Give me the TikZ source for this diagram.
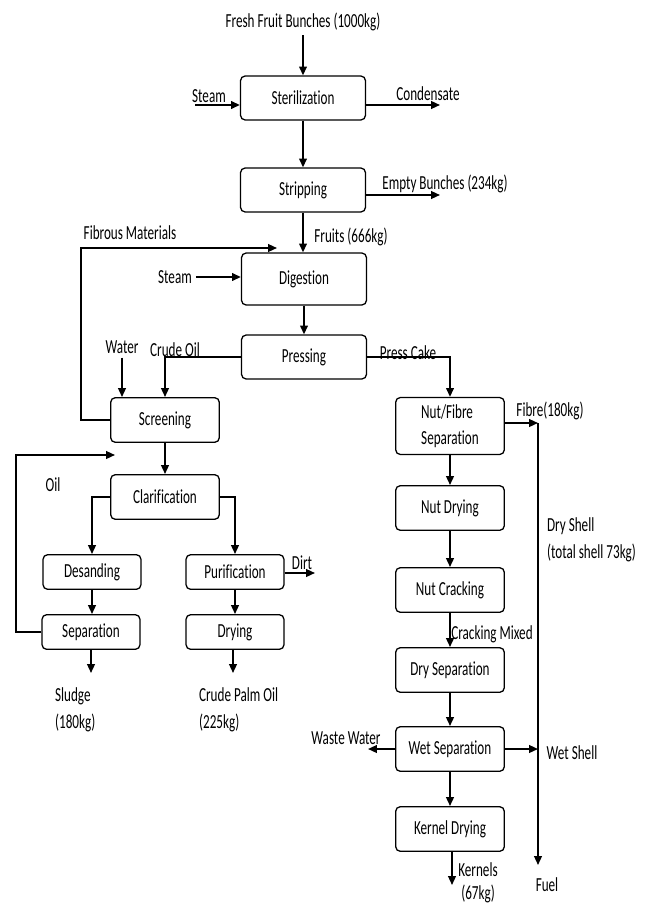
\documentclass[tikz,border=0pt]{standalone}
\usepackage{fontspec}
\setmainfont{Carlito}[FakeStretch=0.66, RawFeature=-liga]
\usetikzlibrary{arrows.meta}

\tikzset{
  unit/.style={draw, rectangle, rounded corners=4pt, line width=1.1pt, minimum width=3.26cm, minimum height=1.34cm},
  bigunit/.style={unit, minimum width=3.75cm, minimum height=1.32cm},
  smallunit/.style={unit, minimum width=2.94cm, minimum height=1.04cm},
  flow/.style={draw, line width=1.5pt, ->}
}

\begin{document}
\begin{tikzpicture}[x=0.03cm, y=-0.03cm,
  every node/.style={font=\fontsize{17}{23}\selectfont},
  >={Triangle[length=7.5pt,width=6.5pt]}]
\useasboundingbox (0,0) rectangle (646,905);
\begin{scope}
% main line
\node[bigunit] (ster) at (303,98) {Sterilization};
\node[bigunit] (strip) at (303,190) {Stripping};
\node[bigunit, minimum height=1.56cm] (dig) at (304,279) {Digestion};
\node[bigunit] (press) at (304,357) {Pressing};
% oil side
\node[unit] (scr) at (165,420) {Screening};
\node[unit] (clar) at (165,497) {Clarification};
\node[smallunit] (des) at (92,572) {Desanding};
\node[smallunit] (sep) at (91,632) {Separation};
\node[smallunit] (pur) at (235,572) {Purification};
\node[smallunit] (dry) at (235,632) {Drying};
% nut side
\node[unit, minimum height=1.71cm, align=left] (nfs) at (450,426) {Nut/Fibre\\[-1pt]Separation};
\node[unit] (ndry) at (450,508) {Nut Drying};
\node[unit] (ncrack) at (450,590) {Nut Cracking};
\node[unit] (dsep) at (450,670) {Dry Separation};
\node[unit] (wsep) at (450,749) {Wet Separation};
\node[unit] (kdry) at (450,829) {Kernel Drying};

% labels
\node (fresh) at (303,22) {Fresh Fruit Bunches (1000kg)};
\node (steam) at (209,96) {Steam};
\node (cond) at (428,94) {Condensate};
\node (empty) at (445,184) {Empty Bunches (234kg)};
\node (fruits) at (351,237) {Fruits (666kg)};
\node (fibrous) at (130,233) {Fibrous Materials};
\node (steamb) at (175,277) {Steam};
\node (water) at (122,347) {Water};
\node (crude) at (175,350) {Crude Oil};
\node (cake) at (408,353) {Press Cake};
\node (oil) at (53,485) {Oil};
\node (dirt) at (302,563) {Dirt};
\node[align=left, anchor=west] (sludge) at (51,710) {Sludge\\(180kg)};
\node[align=left, anchor=west] (cpo) at (195,710) {Crude Palm Oil\\(225kg)};
\node (fibre) at (550,411) {Fibre(180kg)};
\node[align=left, anchor=west] (dshell) at (543,540) {Dry Shell\\(total shell 73kg)};
\node (mixed) at (492,634) {Cracking Mixed};
\node (waste) at (346,738) {Waste Water};
\node (wshell) at (572,753) {Wet Shell};
\node[align=center] (kern) at (478,883) {Kernels\\[-3pt](67kg)};
\node (fuel) at (547,885) {Fuel};

% free ends
\coordinate (stin) at (195,105);
\coordinate (condout) at (440,105);
\coordinate (ebout) at (440,195);
\coordinate (fibin) at (277,248);
\coordinate (oilin) at (115,455);
\coordinate (dirtout) at (315,573);
\coordinate (slout) at (91,673);
\coordinate (cpout) at (233,673);
\coordinate (fibtop) at (538,423);
\coordinate (fuelout) at (538,865);
\coordinate (wwout) at (368,751);
\coordinate (knout) at (452,885);

% connectors
\path[flow] (fresh) -- (ster);
\path[flow] (stin) -- (stin -| ster.west);
\path[flow] (ster.east |- condout) -- (condout);
\path[flow] (ster) -- (strip);
\path[flow] (strip.east |- ebout) -- (ebout);
\path[flow] (strip.south) -- (strip.south |- dig.north);
\path[flow] (scr.west) -- ++(-29,0) |- (fibin);
\path[flow] (steamb.east) -- (steamb.east -| dig.west);
\path[flow] (dig) -- (press);
\path[flow] (press.west) -| (scr.north);
\path[flow] (water.south) -- (water.south |- scr.north);
\path[flow] (press.east) -| (nfs.north);
\path[flow] (scr) -- (clar);
\path[flow] (sep.west) -- ++(-25,0) |- (oilin);
\path[flow] (clar.west) -| (des.north);
\path[flow] (clar.east) -| (pur.north);
\path[flow] (des.south) -- (des.south |- sep.north);
\path[flow] (pur.south) -- (pur.south |- dry.north);
\path[flow] (pur.east |- dirtout) -- (dirtout);
\path[flow] (slout |- sep.south) -- (slout);
\path[flow] (cpout |- dry.south) -- (cpout);
\path[flow] (nfs) -- (ndry);
\path[flow] (ndry) -- (ncrack);
\path[flow] (ncrack) -- (dsep);
\path[flow] (dsep) -- (wsep);
\path[flow] (wsep) -- (kdry);
\path[flow] (nfs.east |- fibtop) -- (fibtop);
\path[flow] (fibtop) -- (fuelout);
\path[flow] (wsep.east) -- (wsep.east -| fibtop);
\path[flow] (wsep.west) -- (wsep.west -| wwout);
\path[flow] (knout |- kdry.south) -- (knout);
\end{scope}
\end{tikzpicture}
\end{document}
